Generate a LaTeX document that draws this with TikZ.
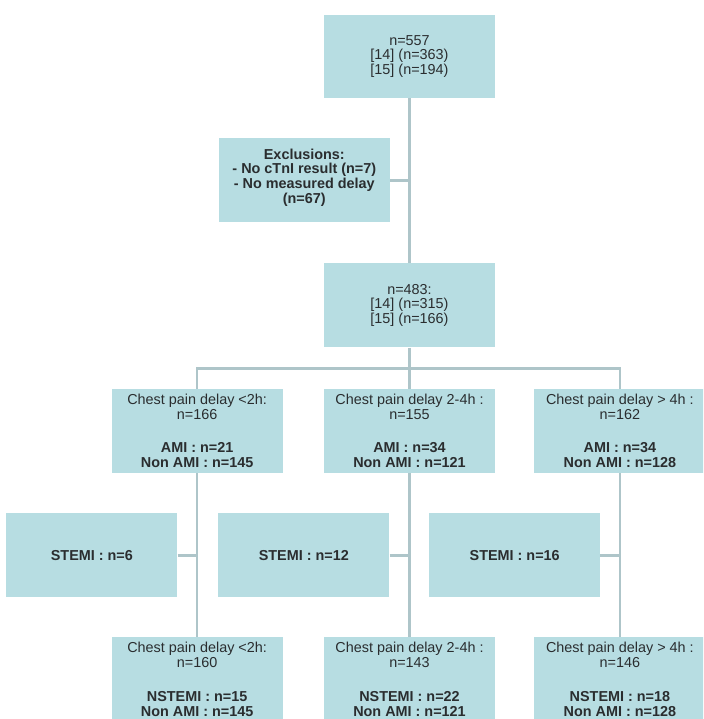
\documentclass[tikz,border=0pt]{standalone}
\usepackage{fontspec}
\setmainfont{Liberation Sans}
\usepackage{xcolor}
\usepackage{tikz}
\usetikzlibrary{positioning}
\definecolor{boxfill}{HTML}{B7DDE2}
\definecolor{linkgray}{HTML}{AEC5C9}
\definecolor{txtgray}{HTML}{2A2D2F}

\begin{document}
\begin{tikzpicture}[
  x=1pt, y=1pt,
  font=\fontsize{14.4}{14.8}\selectfont,
  flowbox/.style={
    fill=boxfill,
    text=txtgray,
    align=center,
    minimum width=171pt,
    minimum height=84pt,
    inner sep=0pt
  },
  link/.style={draw=linkgray, line width=2.6pt}
]
\path[use as bounding box] (0,0) rectangle (703,-719);
\clip (0,0) rectangle (703,-719);

\node[flowbox, minimum height=83pt] (total) at (409.5,-56.5) {n=557\\{}[14] (n=363)\\{}[15] (n=194)};
\node[flowbox, below left=40pt and 19.5pt of total.south] (excl) {\textbf{Exclusions:}\\\textbf{- No cTnI result (n=7)}\\\textbf{- No measured delay}\\\textbf{(n=67)}\\[-6pt]\mbox{}};
\node[flowbox, below=165pt of total] (incl) {n=483:\\{}[14] (n=315)\\{}[15] (n=166)};

\node[flowbox, below=41pt of incl] (midA) {Chest pain delay 2-4h :\\n=155\\[19pt]\textbf{AMI : n=34}\\\textbf{Non AMI : n=121}};
\node[flowbox, left=41pt of midA] (earlyA) {Chest pain delay <2h:\\n=166\\[19pt]\textbf{AMI : n=21}\\\textbf{Non AMI : n=145}};
\node[flowbox, right=39pt of midA] (lateA) {Chest pain delay > 4h :\\n=162\\[19pt]\textbf{AMI : n=34}\\\textbf{Non AMI : n=128}};

\node[flowbox, below left=40pt and 19.5pt of earlyA.south] (earlyS) {\textbf{STEMI : n=6}};
\node[flowbox, below left=40pt and 20pt of midA.south] (midS) {\textbf{STEMI : n=12}};
\node[flowbox, below left=40pt and 19.5pt of lateA.south] (lateS) {\textbf{STEMI : n=16}};

\node[flowbox, below=164pt of earlyA] (earlyB) {Chest pain delay <2h:\\n=160\\[19pt]\textbf{NSTEMI : n=15}\\\textbf{Non AMI : n=145}};
\node[flowbox, below=164pt of midA] (midB) {Chest pain delay 2-4h :\\n=143\\[19pt]\textbf{NSTEMI : n=22}\\\textbf{Non AMI : n=121}};
\node[flowbox, below=164pt of lateA] (lateB) {Chest pain delay > 4h :\\n=146\\[19pt]\textbf{NSTEMI : n=18}\\\textbf{Non AMI : n=128}};

\coordinate[above=20pt of midA.north] (bus);

\draw[link] (total) -- (incl);
\draw[link] (excl.east) -- (excl.east -| total.south);
\draw[link] (incl) -- (midA);
\draw[link] (earlyA.north) |- (bus) -| (lateA.north);
\draw[link] (earlyA) -- (earlyB);
\draw[link] (midA) -- (midB);
\draw[link] (lateA) -- (lateB);
\draw[link] (earlyS.east) -- (earlyS.east -| earlyA.south);
\draw[link] (midS.east) -- (midS.east -| midA.south);
\draw[link] (lateS.east) -- (lateS.east -| lateA.south);
\end{tikzpicture}
\end{document}
